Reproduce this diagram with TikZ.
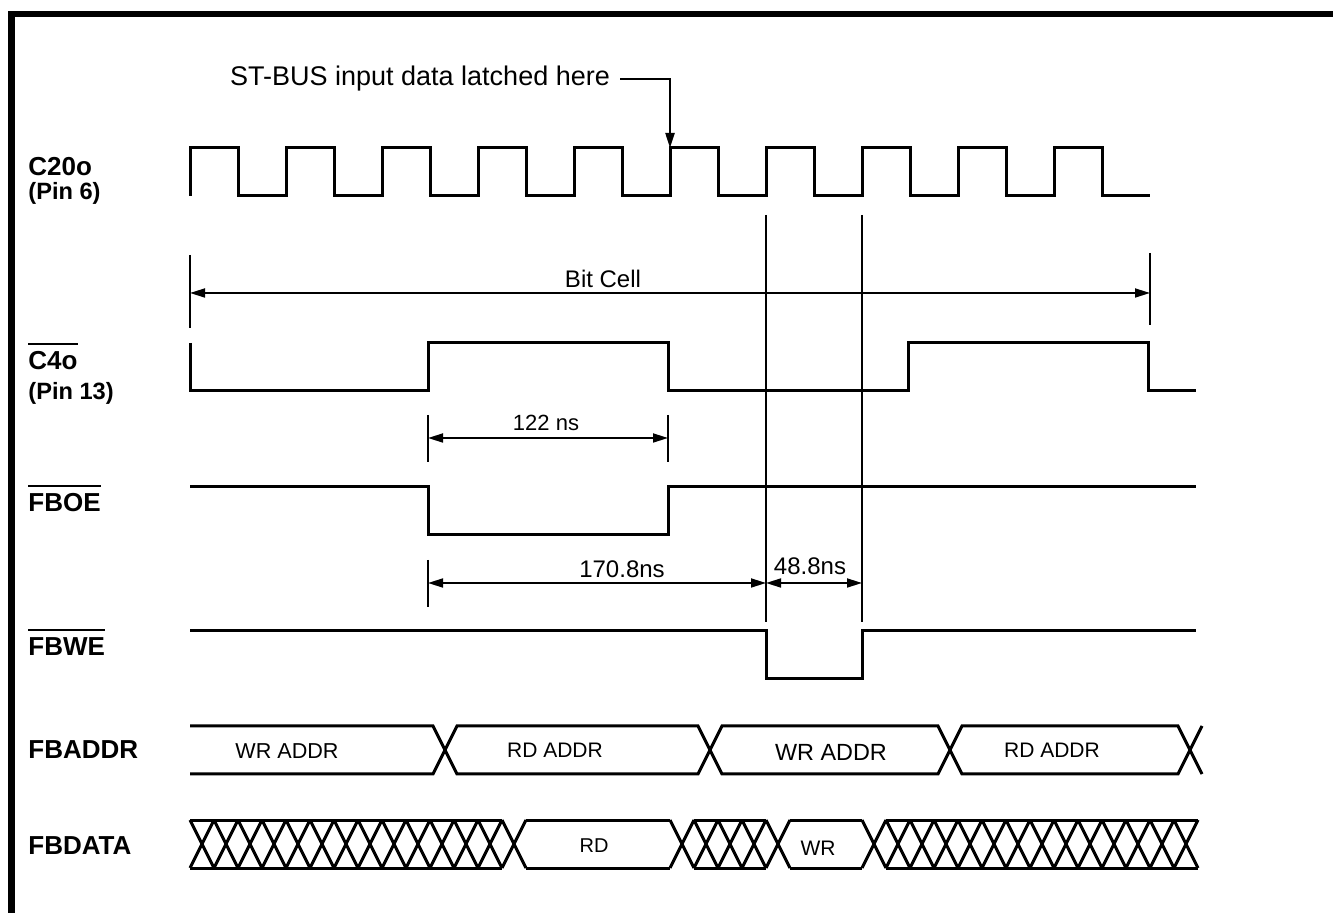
\documentclass[tikz,border=0pt]{standalone}
\usepackage{fontspec}
\setmainfont{Liberation Sans}
\usetikzlibrary{arrows.meta}
\newcommand{\activelow}[1]{\vbox{\hrule height 1.1pt\kern3.5pt\hbox{#1}}}

\begin{document}
\begin{tikzpicture}[x=0.5pt, y=-0.5pt,
    wave/.style={line width=1.5pt},
    thin/.style={line width=0.85pt},
    tip/.style={-{Triangle[length=7.5pt,width=4.5pt]}},
    dimen/.style={thin, {Triangle[length=7.5pt,width=4.5pt]}-{Triangle[length=7.5pt,width=4.5pt]}},
    signame/.style={font=\fontsize{13}{15}\selectfont\bfseries, anchor=base west, inner sep=0pt},
    pinname/.style={font=\fontsize{11.8}{13}\selectfont\bfseries, anchor=base west, inner sep=0pt},
    note/.style={font=\fontsize{#1}{#1}\selectfont, anchor=base, inner sep=0pt},
    note/.default=11,
    ]
    \useasboundingbox (0,0) rectangle (1333,913);
    \draw[line width=3.3pt] (11.5,913) -- (11.5,14) -- (1333,14);

    % signal names
    \node[signame] (c20) at (28,176) {C20o};
    \node[pinname] (c20pin) at (28,200) {(Pin 6)};
    \node[signame] (c4) at (28,370) {\activelow{C4o}};
    \node[pinname] (c4pin) at (28,400) {(Pin 13)};
    \node[signame] (fboe) at (28,512) {\activelow{FBOE}};
    \node[signame] (fbwe) at (28,656) {\activelow{FBWE}};
    \node[signame] (fbaddr) at (28,759) {FBADDR};
    \node[signame] (fbdata) at (28,854) {FBDATA};

    % C20o clock
    \draw[wave] (190,196) \foreach \k in {1,...,10} { -- ++(0,-48) -- ++(48,0) -- ++(0,48) -- ++(48,0) };
    \node[note=13.5] (latch) at (420,86) {ST-BUS input data latched here};
    \coordinate (latchedge) at (670,148);
    \draw[thin, line width=1.1pt, tip] ([xshift=5pt]latch.east) -| (latchedge);
    \draw[thin] (766,215) -- (766,622) (862,215) -- (862,622);

    % bit cell
    \coordinate (cellL) at (190,293);
    \coordinate (cellR) at (1150,293);
    \draw[thin] (190,255) -- (190,328) (1150,253) -- (1150,325);
    \draw[dimen] (cellL) -- (cellR);
    \node[note=12] (bitcell) at (603,288) {Bit Cell};

    % C4o
    \draw[wave] (190,343) -- (190,391) -- (428,391) -- (428,343) -- (668,343) -- (668,391)
        -- (908,391) -- (908,343) -- (1148,343) -- (1148,391) -- (1196,391);
    \coordinate (hiL) at (428,438);
    \coordinate (hiR) at (668,438);
    \draw[thin] (428,415) -- (428,462) (668,415) -- (668,462);
    \draw[dimen] (hiL) -- (hiR);
    \node[note=11] (t122) at (546,431) {122 ns};

    % FBOE
    \draw[wave] (190,487) -- (428,487) -- (428,535) -- (668,535) -- (668,487) -- (1196,487);
    \coordinate (rdL) at (428,583);
    \coordinate (rdR) at (766,583);
    \coordinate (wrR) at (862,583);
    \draw[thin] (428,560) -- (428,607);
    \draw[dimen] (rdL) -- (rdR);
    \draw[dimen] (rdR) -- (wrR);
    \node[note=12] (t170) at (622,578) {170.8ns};
    \node[note=12] (t48) at (810,575) {48.8ns};

    % FBWE
    \draw[wave] (190,631) -- (766,631) -- (766,679) -- (862,679) -- (862,631) -- (1196,631);

    % FBADDR
    \draw[wave] (190,726) -- (433,726) -- (457,774) -- (698,774) -- (722,726) -- (938,726)
        -- (962,774) -- (1178,774) -- (1202,726);
    \draw[wave] (190,774) -- (433,774) -- (457,726) -- (698,726) -- (722,774) -- (938,774)
        -- (962,726) -- (1178,726) -- (1202,774);
    \node[note=10.8] (wra) at (287,759) {WR ADDR};
    \node[note=10.5] (rda) at (555,758) {RD ADDR};
    \node[note=11.7] (wrb) at (831,761) {WR ADDR};
    \node[note=10.5] (rdb) at (1052,758) {RD ADDR};

    % FBDATA
    \foreach \a/\b in {190/502,526/670,694/766,790/862,886/1198}
        \draw[wave] (\a,820) -- (\b,820) (\a,868) -- (\b,868);
    \foreach \x in {190,214,...,502,670,694,...,766,862,886,...,1174}
        \draw[wave] (\x,820) -- ++(24,48) (\x,868) -- ++(24,-48);
    \node[note=10] (rdd) at (594,852) {RD};
    \node[note=10.5] (wrd) at (818,855) {WR};
\end{tikzpicture}
\end{document}
